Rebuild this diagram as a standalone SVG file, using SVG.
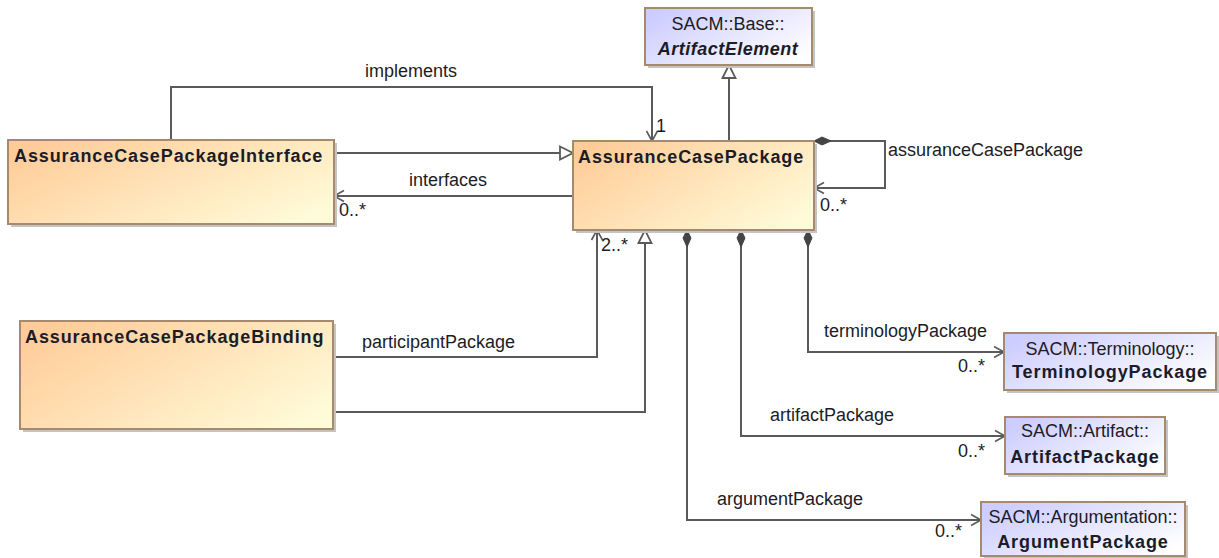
<svg xmlns="http://www.w3.org/2000/svg" width="1219" height="558" viewBox="0 0 1219 558">
<style>
text{font-family:"Liberation Sans",Arial,sans-serif;font-size:18px;fill:#1c1c28}
.b{font-weight:bold;letter-spacing:0.9px}
.bi{font-weight:bold;font-style:italic;letter-spacing:0.5px}
.m{text-anchor:middle}
.cls{fill:url(#og);stroke:#a68a6e;stroke-width:2}
.ext{fill:url(#bg);stroke:#a68a6e;stroke-width:2}
.sh{fill:#c4c4c4}
.ln{fill:none;stroke:#5a5a5a;stroke-width:2}
</style>
<defs>
<linearGradient id="og" x1="0" y1="0.2" x2="1" y2="0.8">
<stop offset="0" stop-color="#ffcc99"/>
<stop offset="1" stop-color="#fffbd8"/>
</linearGradient>
<linearGradient id="bg" x1="0" y1="0.2" x2="1" y2="0.8">
<stop offset="0" stop-color="#ccccff"/>
<stop offset="1" stop-color="#ffffff"/>
</linearGradient>
<marker id="tri" markerUnits="userSpaceOnUse" viewBox="-1 -1 15 15" markerWidth="15" markerHeight="15" refX="13" refY="6.5" orient="auto" overflow="visible">
<path d="M0,0 L13,6.5 L0,13 Z" fill="#fff" stroke="#5a5a5a" stroke-width="1.8"/>
</marker>
<marker id="arr" markerUnits="userSpaceOnUse" viewBox="-1 -1 13 13" markerWidth="13" markerHeight="13" refX="10" refY="5.5" orient="auto" overflow="visible">
<path d="M0,0 L10,5.5 L0,11" fill="none" stroke="#5a5a5a" stroke-width="1.6"/>
</marker>
<marker id="dia" markerUnits="userSpaceOnUse" viewBox="-1 -1 20 10" markerWidth="20" markerHeight="10" refX="0" refY="4" orient="auto" overflow="visible">
<path d="M0,4 L8,0 L17,4 L8,8 Z" fill="#444" stroke="#444" stroke-width="1"/>
</marker>
</defs>

<g id="connectors">
<path class="ln" d="M729,141 V65" marker-end="url(#tri)"/>
<path class="ln" d="M171,140 V87 H652 V141" marker-end="url(#arr)"/>
<path class="ln" d="M334,153 H573" marker-end="url(#tri)"/>
<path class="ln" d="M573,196 H334" marker-end="url(#arr)"/>
<path class="ln" d="M814,141 H885 V188 H814" marker-start="url(#dia)" marker-end="url(#arr)"/>
<path class="ln" d="M333,357 H597 V230" marker-end="url(#arr)"/>
<path class="ln" d="M333,412 H645 V230" marker-end="url(#tri)"/>
<path class="ln" d="M808,230 V352 H1004" marker-start="url(#dia)" marker-end="url(#arr)"/>
<path class="ln" d="M741,230 V436 H1005" marker-start="url(#dia)" marker-end="url(#arr)"/>
<path class="ln" d="M687,230 V520 H981" marker-start="url(#dia)" marker-end="url(#arr)"/>
<text x="365" y="77">implements</text>
<text x="656" y="132">1</text>
<text x="409" y="186">interfaces</text>
<text x="339" y="216">0..*</text>
<text x="888" y="156">assuranceCasePackage</text>
<text x="820" y="211">0..*</text>
<text x="362" y="348">participantPackage</text>
<text x="601" y="251">2..*</text>
<text x="824" y="337">terminologyPackage</text>
<text x="958" y="372">0..*</text>
<text x="770" y="421">artifactPackage</text>
<text x="958" y="457">0..*</text>
<text x="717" y="505">argumentPackage</text>
<text x="935" y="537">0..*</text>
</g>

<g id="ArtifactElement">
<rect class="sh" x="648" y="11" width="167" height="57"/>
<rect class="ext" x="645" y="8" width="167" height="57"/>
<text class="m" x="728" y="30">SACM::Base::</text>
<text class="m bi" x="728" y="55">ArtifactElement</text>
</g>

<g id="AssuranceCasePackage">
<rect class="sh" x="576" y="144" width="241" height="89"/>
<rect class="cls" x="573" y="141" width="241" height="89"/>
<text class="b" x="578" y="163">AssuranceCasePackage</text>
</g>

<g id="AssuranceCasePackageInterface">
<rect class="sh" x="11" y="143" width="326" height="84"/>
<rect class="cls" x="8" y="140" width="326" height="84"/>
<text class="b" x="14" y="162">AssuranceCasePackageInterface</text>
</g>

<g id="AssuranceCasePackageBinding">
<rect class="sh" x="23" y="324" width="313" height="108"/>
<rect class="cls" x="20" y="321" width="313" height="108"/>
<text class="b" x="25" y="343">AssuranceCasePackageBinding</text>
</g>

<g id="TerminologyPackage">
<rect class="sh" x="1007" y="336" width="212" height="57"/>
<rect class="ext" x="1004" y="333" width="212" height="57"/>
<text class="m" x="1110" y="355">SACM::Terminology::</text>
<text class="m b" x="1110" y="378">TerminologyPackage</text>
</g>

<g id="ArtifactPackage">
<rect class="sh" x="1008" y="420" width="160" height="57"/>
<rect class="ext" x="1005" y="417" width="160" height="57"/>
<text class="m" x="1085" y="437">SACM::Artifact::</text>
<text class="m b" x="1085" y="463">ArtifactPackage</text>
</g>

<g id="ArgumentPackage">
<rect class="sh" x="984" y="505" width="204" height="54"/>
<rect class="ext" x="981" y="502" width="204" height="54"/>
<text class="m" x="1083" y="523">SACM::Argumentation::</text>
<text class="m b" x="1083" y="548">ArgumentPackage</text>
</g>
</svg>
